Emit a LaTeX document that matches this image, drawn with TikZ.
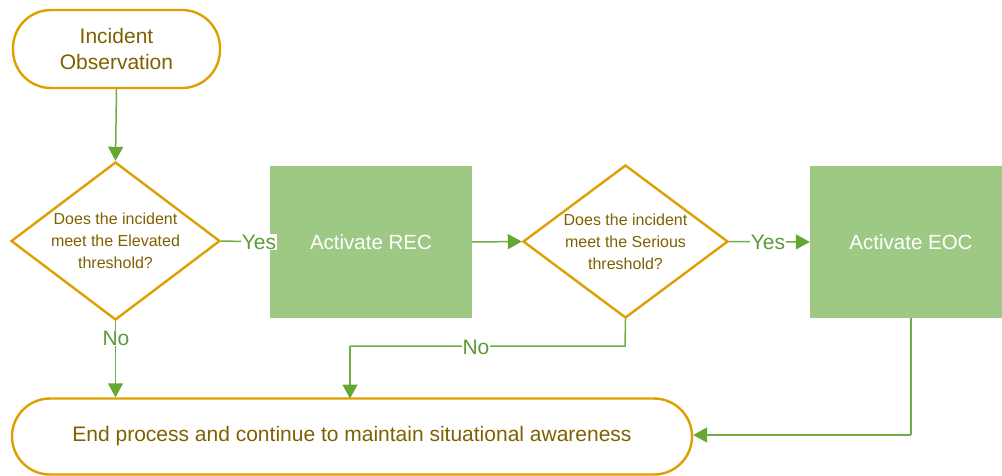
\documentclass[tikz,border=0pt]{standalone}
\usepackage{fontspec}
\setmainfont{Liberation Sans}
\usetikzlibrary{shapes.geometric,arrows.meta}
\definecolor{obord}{HTML}{DDA000}
\definecolor{otext}{HTML}{7F6000}
\definecolor{gline}{HTML}{70AD47}
\definecolor{ghead}{HTML}{64A832}
\definecolor{gfill}{HTML}{9DC985}
\definecolor{glabel}{HTML}{5B9B3A}
\tikzset{
  term/.style={draw=obord, line width=2.4pt, rounded corners=38pt, text=otext, align=center, font=\fontsize{21}{26}\selectfont, inner sep=0pt},
  decide/.style={draw=obord, line width=2.4pt, diamond, text=otext, align=center, font=\fontsize{16}{22}\selectfont, inner sep=0pt, minimum width=#1, aspect=1.3},
  actbox/.style={fill=gfill, text=white, font=\fontsize{20.5}{22}\selectfont, minimum width=202pt, minimum height=152pt, inner sep=0pt},
  conn/.style={draw=gline, line width=1.5pt, -{Triangle[length=14pt,width=15pt,color=ghead]}},
  plain/.style={draw=gline, line width=1.5pt},
  lab/.style={text=glabel, fill=white, font=\fontsize{21}{22}\selectfont, inner sep=1pt}
}
\begin{document}
\begin{tikzpicture}[x=1pt,y=-1pt]
\useasboundingbox (0,0) rectangle (1002,475);
\node[term, minimum width=207pt, minimum height=78pt] (start) at (116.5,49) {Incident\\Observation};
\node[decide=209pt, minimum height=158pt] (d1) at (115.5,241) {Does the incident\\meet the Elevated\\threshold?};
\node[actbox] (rec) at (371,242) {Activate REC};
\node[decide=205pt, minimum height=153pt] (d2) at (625.5,241.5) {Does the incident\\meet the Serious\\threshold?};
\node[actbox] (eoc) at (911,242) {Activate EOC};
\node[term, minimum width=680pt, minimum height=76pt] (end) at (352,436.5) {End process and continue to maintain situational awareness};
\coordinate (n2a) at (625,346);
\coordinate (n2b) at (350,346);
\coordinate (n2c) at (350,398.5);
\coordinate (e1) at (911,435);
\draw[conn] (start.south) -- (d1.north);
\draw[conn] (d1.east) -- (rec.west);
\node[lab] (yes1) at (259,242) {Yes};
\draw[conn] (rec.east) -- (d2.west);
\draw[conn] (d2.east) -- (eoc.west);
\node[lab] (yes2) at (768,242) {Yes};
\draw[conn] (d1.south) -- (d1.south |- end.north);
\node[lab] (no1) at (116,338) {No};
\draw[plain] (d2.south) -- (n2a) -- (n2b);
\draw[conn] (n2b) -- (n2c);
\node[lab] (no2) at (476,347) {No};
\draw[plain] (eoc.south) -- (e1);
\draw[conn] (e1) -- (end.east |- e1);
\end{tikzpicture}
\end{document}
